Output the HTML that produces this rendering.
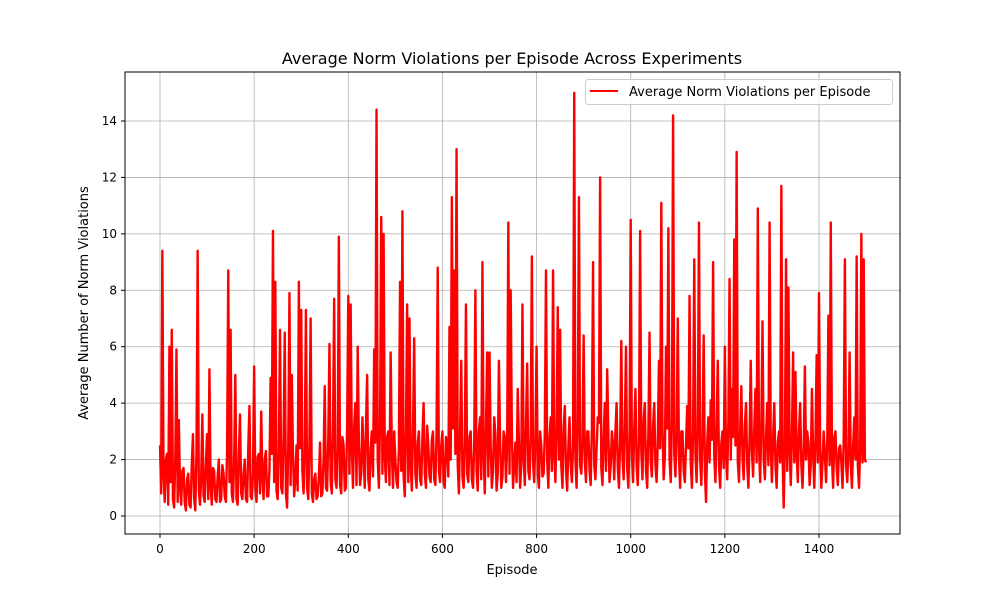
<!DOCTYPE html>
<html><head><meta charset="utf-8"><style>body{margin:0;background:#fff}svg{display:block;font-family:"DejaVu Sans","Liberation Sans",sans-serif}</style></head>
<body>
<svg id="chart" width="1000" height="600">
<rect x="0" y="0" width="1000" height="600" fill="#fff"/>
<g id="grid"></g>
<g id="series"></g>
<rect x="125" y="72" width="775" height="462" fill="none" stroke="#000" stroke-width="1"/>
<g id="axes"></g>
<text x="512" y="64" font-size="16" text-anchor="middle">Average Norm Violations per Episode Across Experiments</text>
<text x="512" y="574" font-size="13" text-anchor="middle">Episode</text>
<text x="88" y="303" font-size="13" text-anchor="middle" transform="rotate(-90 88 303)">Average Number of Norm Violations</text>
<g>
<rect x="585.5" y="79.5" width="307" height="25" rx="3" fill="#fff" fill-opacity="0.8" stroke="#ccc"/>
<line x1="590" y1="91" x2="618" y2="91" stroke="red" stroke-width="2"/>
<text x="629" y="96" font-size="13">Average Norm Violations per Episode</text>
</g>
</svg>
<script>
const xTicks=[0,200,400,600,800,1000,1200,1400];
const yTicks=[0,2,4,6,8,10,12,14];
const episodeStep=5;
// values at episodes 0,5,10,...
const values=[
2.5,9.4,0.5,2.2,6.0,6.6,0.3,5.9,3.4,0.4,1.7,0.2,1.5,0.3,2.9,0.2,9.4,0.4,3.6,0.5,
2.9,5.2,0.4,1.6,0.5,2.0,0.6,1.5,0.5,8.7,6.6,0.5,5.0,0.4,3.6,0.6,2.0,0.5,3.9,0.6,
5.3,0.5,2.2,3.7,0.6,2.3,0.7,4.9,10.1,8.3,0.6,6.6,0.8,6.5,0.3,7.9,5.0,0.7,2.5,8.3,
7.3,0.8,7.3,0.6,7.0,0.5,1.5,0.7,2.6,0.8,4.6,0.9,6.1,0.8,7.7,1.0,9.9,0.8,2.5,1.0,
7.8,7.5,1.0,4.0,6.0,1.1,3.5,1.0,5.0,0.9,3.0,5.9,14.4,1.0,10.6,10.0,1.2,3.0,5.8,1.0,
2.0,1.0,8.3,10.8,0.7,7.5,7.0,0.9,6.3,1.0,3.0,1.1,4.0,1.0,2.5,1.2,3.0,1.1,8.8,1.2,
3.0,1.0,2.5,6.7,11.3,8.7,13.0,0.8,5.5,1.0,7.5,1.2,3.0,1.0,8.0,0.9,3.5,9.0,0.8,5.8,
5.8,1.0,3.5,0.9,5.5,1.0,3.0,1.2,10.4,8.0,1.0,2.6,4.5,1.0,7.5,1.1,5.4,1.3,9.2,1.2,
6.0,1.0,2.5,1.5,8.7,1.0,3.5,8.7,1.2,7.4,6.6,1.0,3.9,0.9,3.5,1.2,15.0,1.0,11.3,1.5,
6.4,1.2,3.0,1.1,9.0,1.3,3.5,12.0,1.1,4.0,5.2,1.2,3.0,1.3,4.0,1.0,6.2,1.3,6.0,1.0,
10.5,1.2,4.5,1.1,10.1,1.3,4.0,1.0,6.5,1.4,4.0,1.2,5.5,11.1,1.3,6.0,10.2,1.2,14.2,1.4,
7.0,1.0,3.0,1.2,3.9,7.8,1.0,9.1,1.2,10.4,1.1,6.4,0.5,3.5,4.1,9.0,1.2,5.5,1.0,3.0,
6.0,1.3,8.4,4.5,9.8,12.9,1.2,4.6,1.3,4.0,1.0,5.5,1.4,4.5,10.9,1.2,6.9,1.3,4.0,10.4,
1.2,4.0,1.0,3.0,11.7,0.3,9.1,8.1,1.1,5.8,5.1,1.2,4.0,1.0,5.3,3.0,1.1,4.5,1.0,5.7,
7.9,1.0,3.0,1.2,7.1,10.4,1.0,3.0,1.1,2.5,1.0,9.1,1.2,5.8,1.0,3.5,9.2,1.0,10.0,9.1,
1.9];
// values at episodes 2.5,7.5,12.5,... (in-between readings)
const midValues=[
0.8,1.5,2.0,0.4,1.2,0.6,2.1,0.5,1.0,1.6,0.5,1.3,0.4,1.8,0.6,2.2,0.9,1.4,0.7,1.9,
0.6,1.1,1.7,0.6,1.4,0.5,1.8,0.7,2.3,1.2,0.8,1.9,0.6,2.2,0.8,1.5,0.6,2.4,0.7,1.5,
1.0,2.1,0.8,1.4,2.0,0.7,1.6,2.2,1.2,0.9,2.4,1.0,2.8,0.8,2.5,1.1,2.2,1.3,0.9,2.4,
1.6,2.2,1.0,2.6,0.8,1.3,0.6,1.4,0.7,2.0,1.0,2.7,1.2,3.0,1.3,2.4,1.1,2.8,0.9,3.1,
1.5,2.5,3.2,1.1,2.6,1.5,2.2,3.1,1.3,2.4,1.4,2.6,2.0,3.4,1.5,2.1,2.8,1.1,2.3,3.0,
1.2,2.4,1.6,1.4,3.0,1.2,1.8,3.0,1.5,2.6,1.3,2.8,1.5,3.2,1.4,2.7,1.3,2.9,1.6,2.5,
1.2,2.8,1.4,2.0,3.1,2.2,1.8,3.0,1.4,2.6,1.5,2.8,1.3,2.5,1.6,3.0,1.3,2.2,3.1,1.4,
2.5,1.6,2.9,1.5,2.7,1.4,2.8,2.5,1.5,3.0,1.8,1.2,2.6,1.8,2.1,3.2,1.6,2.8,1.9,2.7,
1.5,3.0,1.4,2.9,2.0,2.8,1.6,2.2,3.2,2.0,1.8,3.1,1.6,2.4,1.8,2.5,2.0,3.3,1.8,2.6,
1.9,3.0,1.6,3.1,1.8,2.4,3.3,1.7,2.8,1.6,2.9,1.8,2.5,3.0,1.7,2.6,2.1,3.2,1.7,2.8,
2.2,3.1,1.8,2.7,2.3,3.4,1.6,2.9,1.9,3.2,1.8,2.6,2.4,3.0,2.1,3.1,2.0,3.3,2.2,2.9,
2.1,3.0,1.6,2.5,2.4,1.9,3.0,2.2,3.1,2.0,2.8,1.6,2.6,1.9,2.7,2.1,3.2,1.8,2.6,1.7,
2.2,3.4,2.0,2.8,2.5,1.9,3.0,2.1,3.2,1.8,2.7,2.3,3.1,1.9,2.5,3.3,2.0,2.8,1.8,2.4,
2.8,1.8,2.6,1.9,2.2,2.5,1.6,2.4,2.8,1.9,2.2,3.0,1.8,2.4,2.0,2.6,1.8,2.2,2.7,1.9,
2.4,1.9,2.2,2.6,1.8,2.1,2.8,1.7,2.4,1.9,2.7,1.8,2.3,1.8,2.5,2.0,1.8,2.4,1.9,2.0];
const NS='http://www.w3.org/2000/svg';
function xs(e){return 160+e*(819-160)/1400;}
function ys(v){return 516-v*(516-121)/14;}
const grid=document.getElementById('grid'),axes=document.getElementById('axes'),series=document.getElementById('series');
function mk(tag,attrs,parent){const el=document.createElementNS(NS,tag);for(const k in attrs)el.setAttribute(k,attrs[k]);parent.appendChild(el);return el;}
xTicks.forEach(t=>{const x=xs(t);
const g=mk('line',{x1:x,x2:x,y1:72,y2:534,stroke:'#b0b0b0','stroke-width':0.8},grid);


mk('line',{x1:x,x2:x,y1:534,y2:538,stroke:'#000'},axes);
const tx=mk('text',{x:x,y:553,'font-size':12,'text-anchor':'middle'},axes);tx.textContent=t;

});
yTicks.forEach(t=>{const y=ys(t);
const g=mk('line',{x1:125,x2:900,y1:y,y2:y,stroke:'#b0b0b0','stroke-width':0.8},grid);


mk('line',{x1:121,x2:125,y1:y,y2:y,stroke:'#000'},axes);
const tx=mk('text',{x:117,y:y+4,'font-size':12,'text-anchor':'end'},axes);tx.textContent=t;

});
const pts=[];
values.forEach((v,i)=>{
  pts.push(xs(i*episodeStep).toFixed(2)+','+ys(v).toFixed(1));
  if(i<midValues.length) pts.push(xs(i*episodeStep+episodeStep/2).toFixed(2)+','+ys(midValues[i]).toFixed(1));
});
const line=mk('polyline',{points:pts.join(' '),fill:'none',stroke:'red','stroke-width':2.4,'stroke-linejoin':'round'},series);


</script>
</body></html>
